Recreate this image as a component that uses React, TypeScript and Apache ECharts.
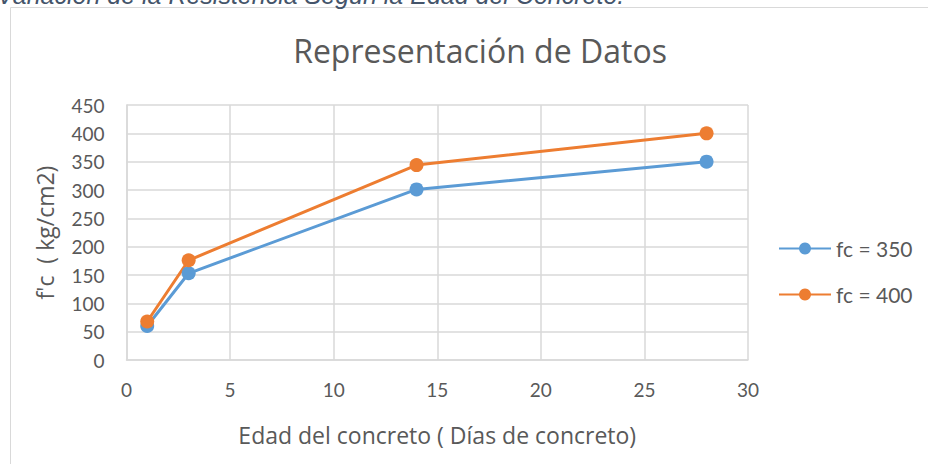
import React, { useEffect, useRef } from "react";
import * as echarts from "echarts";

const days = [1, 3, 14, 28];
const fc350 = [60, 153, 301, 350];
const fc400 = [68, 176, 344, 400];
const seriesNames = ["fc = 350", "fc = 400"];
const chartTitle = "Representación de Datos";
const caption = "Variación de la Resistencia Según la Edad del Concreto.";
const xAxisTitle = "Edad del concreto ( Días de concreto)";
const yAxisTitle = "f'c  ( kg/cm2)";

const FONT = "Lato, 'Open Sans', sans-serif";
const FONT2 = "'Open Sans', Lato, sans-serif";
const TXT = "#595959";
const GRID = "#d9d9d9";

export default function App() {
  const ref = useRef<HTMLDivElement>(null);
  useEffect(() => {
    if (!ref.current) return;
    const chart = echarts.init(ref.current, undefined, { renderer: "svg" });
    const mk = (name: string, vals: number[], color: string) => ({
      name,
      type: "line",
      data: days.map((d, i) => [d, vals[i]]),
      symbol: "circle",
      symbolSize: 14,
      itemStyle: { color },
      lineStyle: { color, width: 3 },
    });
    chart.setOption({
      animation: false,
      backgroundColor: "#ffffff",
      title: {
        text: chartTitle,
        left: 475,
        top: 29,
        textAlign: "center",
        textStyle: { fontFamily: FONT2, fontSize: 32, fontWeight: "normal", color: TXT },
      },
      graphic: [
        {
          type: "rect",
          shape: { x: 10.5, y: 7.5, width: 1000, height: 1000 },
          style: { fill: "none", stroke: GRID, lineWidth: 1 },
          silent: true,
        },
        {
          type: "text",
          x: -3,
          y: 7,
          style: {
            text: caption,
            fontFamily: "'Liberation Sans', Arial, sans-serif",
            fontStyle: "italic",
            fontSize: 25,
            fill: "#44546a",
            verticalAlign: "bottom",
          },
        },
      ],
      legend: {
        orient: "vertical",
        left: 773,
        top: 233,
        itemWidth: 52,
        itemHeight: 15,
        itemGap: 25,
        textStyle: { fontFamily: FONT, fontSize: 21, color: TXT },
        data: seriesNames,
      },
      grid: { left: 126.5, top: 105, right: 180, bottom: 104, containLabel: false },
      xAxis: {
        type: "value",
        min: 0,
        max: 30,
        interval: 5,
        name: xAxisTitle,
        nameLocation: "middle",
        nameGap: 63,
        nameTextStyle: { fontFamily: FONT2, fontSize: 23, color: TXT },
        axisLine: { show: true, lineStyle: { color: GRID, width: 1.5 } },
        axisTick: { show: false },
        axisLabel: { fontFamily: FONT, fontSize: 19, color: TXT, margin: 20 },
        splitLine: { show: true, lineStyle: { color: GRID, width: 1.5 } },
      },
      yAxis: {
        type: "value",
        min: 0,
        max: 450,
        interval: 50,
        name: yAxisTitle,
        nameLocation: "middle",
        nameGap: 70,
        nameTextStyle: { fontFamily: FONT2, fontSize: 23, color: TXT },
        axisLine: { show: true, lineStyle: { color: GRID, width: 1.5 } },
        axisTick: { show: false },
        axisLabel: { fontFamily: FONT, fontSize: 19, color: TXT, margin: 22 },
        splitLine: { show: true, lineStyle: { color: GRID, width: 1.5 } },
      },
      series: [mk(seriesNames[0], fc350, "#5b9bd5"), mk(seriesNames[1], fc400, "#ed7d31")],
    });
    return () => chart.dispose();
  }, []);
  return (
    <div
      ref={ref}
      style={{ position: "absolute", left: 0, top: 0, width: 928, height: 464 }}
    />
  );
}
